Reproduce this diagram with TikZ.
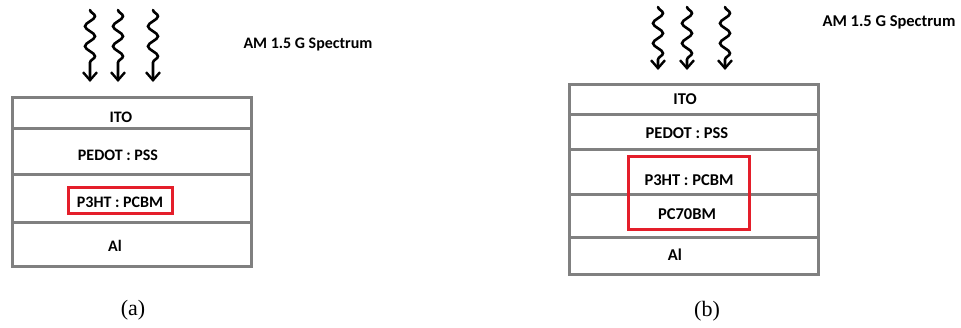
\documentclass[tikz,border=0pt]{standalone}
\usepackage{fontspec}
\setmainfont{Liberation Serif}
\newfontfamily\filmfont{Carlito}
\usetikzlibrary{arrows.meta,decorations.pathmorphing}

\begin{document}
\begin{tikzpicture}[x=1pt,y=-1pt]
        \tikzset{film/.style={draw=gray,line width=3pt,inner sep=0pt,outer sep=0pt},
          filmA/.style={film,minimum width=239pt},
          filmB/.style={film,minimum width=249pt},
          txtA/.style={font=\filmfont\bfseries\fontsize{16}{18}\selectfont,inner sep=1pt},
          txtB/.style={font=\filmfont\bfseries\fontsize{16.5}{19}\selectfont,inner sep=1pt},
          redbox/.style={draw={rgb,255:red,228;green,30;blue,42},line width=3pt,inner sep=0pt,outer sep=0pt},
          ray/.style={line width=2.6pt,line cap=round,decorate,
            decoration={snake,amplitude=5pt,segment length=20pt,post length=10pt},
            -{Straight Barb[length=8pt,width=14pt,line width=2.4pt]}},
          caption/.style={font=\fontsize{22}{26}\selectfont}}
        \useasboundingbox (0,0) rectangle (961,327);
        % (a) single active layer
        \node[filmA,minimum height=31pt] (itoA) at (131.5,112.5) {};
        \node[filmA,minimum height=46pt] (pedotA) at (131.5,151) {};
        \node[filmA,minimum height=48pt] (activeA) at (131.5,198) {};
        \node[filmA,minimum height=44pt] (alA) at (131.5,244) {};
        \node[txtA] (itoAtxt) at (121,117) {ITO};
        \node[txtA] (pedotAtxt) at (118,155) {PEDOT : PSS};
        \node[txtA] (activeAtxt) at (120,202) {P3HT : PCBM};
        \node[txtA] (alAtxt) at (115,246) {Al};
        \node[redbox,minimum width=104pt,minimum height=26pt] (boxA) at (120,200) {};
        \foreach \x [count=\i] in {90,118,153}{
          \coordinate (srcA\i) at (\x,10);
          \coordinate (dstA\i) at (\x,82);
          \draw[ray] (srcA\i) -- (dstA\i);
        }
        \node[txtA] (specA) at (308,45) {AM 1.5 G Spectrum};
        \node[caption] (capA) at (133,310) {(a)};
        % (b) with PC70BM interlayer
        \node[filmB,minimum height=30pt] (itoB) at (693.5,99) {};
        \node[filmB,minimum height=35pt] (pedotB) at (693.5,131.5) {};
        \node[filmB,minimum height=45pt] (activeB) at (693.5,171.5) {};
        \node[filmB,minimum height=43pt] (pcbmB) at (693.5,215.5) {};
        \node[filmB,minimum height=37pt] (alB) at (693.5,255.5) {};
        \node[txtB] (itoBtxt) at (685,99) {ITO};
        \node[txtB] (pedotBtxt) at (687,133) {PEDOT : PSS};
        \node[txtB] (activeBtxt) at (689,180) {P3HT : PCBM};
        \node[txtB] (pcbmBtxt) at (687,214) {PC70BM};
        \node[txtB] (alBtxt) at (675,255) {Al};
        \node[redbox,minimum width=121pt,minimum height=73pt] (boxB) at (688.5,192.5) {};
        \foreach \x [count=\i] in {658,687,725}{
          \coordinate (srcB\i) at (\x,7);
          \coordinate (dstB\i) at (\x,70);
          \draw[ray] (srcB\i) -- (dstB\i);
        }
        \node[txtB] (specB) at (889,22) {AM 1.5 G Spectrum};
        \node[caption] (capB) at (707,311) {(b)};
      \end{tikzpicture}
\end{document}
